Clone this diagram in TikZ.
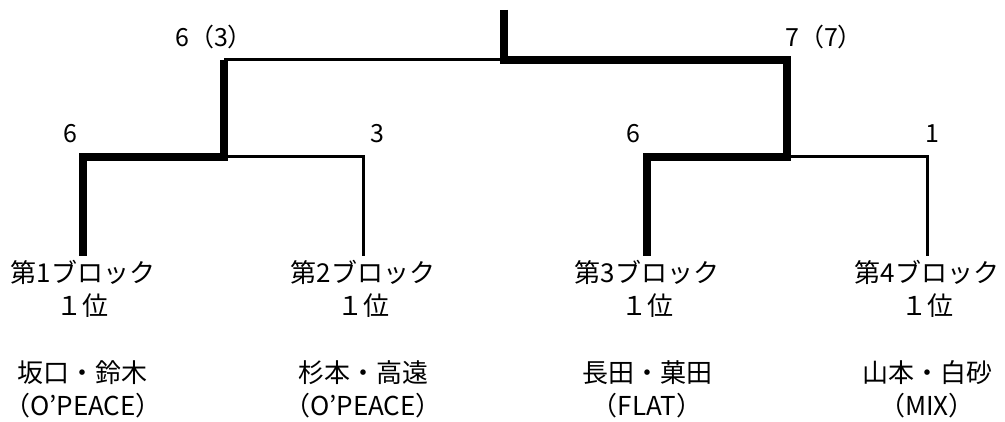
\documentclass[tikz,border=0pt]{standalone}
\usepackage{fontspec}
\setmainfont{Noto Sans CJK JP}
\usetikzlibrary{positioning}
\tikzset{
  win/.style={line width=4pt, line join=miter},
  lose/.style={line width=1.5pt, line join=miter},
  team/.style={align=center, inner sep=2pt, font=\fontsize{13}{16.5}\selectfont},
  score/.style={inner sep=0pt, font=\fontsize{12.5}{15}\selectfont}
}
\begin{document}
\begin{tikzpicture}[x=0.5pt,y=-0.5pt]
\useasboundingbox (0,0) rectangle (1005,422);

% junctions of the bracket
\coordinate (top) at (504,10);
\coordinate (fin) at (504,60);
\coordinate (sl) at (224,60);
\coordinate (sr) at (787,60);
\coordinate (slb) at (224,157);
\coordinate (srb) at (787,157);
\coordinate (q1) at (83,157);
\coordinate (q2) at (363,157);
\coordinate (q3) at (647,157);
\coordinate (q4) at (927,157);

% block winners
\node[team] (b1) at (83,289) {第1ブロック\\１位};
\node[team] (b2) at (363,289) {第2ブロック\\１位};
\node[team] (b3) at (647,289) {第3ブロック\\１位};
\node[team] (b4) at (927,289) {第4ブロック\\１位};

% players
\node[team] (p1) at (83,389) {坂口・鈴木\\（O’PEACE）};
\node[team] (p2) at (363,389) {杉本・高遠\\（O’PEACE）};
\node[team] (p3) at (647,389) {長田・菓田\\（FLAT）};
\node[team] (p4) at (927,389) {山本・白砂\\（MIX）};

% scores
\node[score] (s1) at (70,134) {6};
\node[score] (s2) at (377,134) {3};
\node[score] (s3) at (633,134) {6};
\node[score] (s4) at (932,134) {1};
\node[score] (sl1) at (214,37) {6（3）};
\node[score] (sr1) at (824,37) {7（7）};

% left half
\draw[win] (b1.north) -- (q1) -- (slb) -- (sl);
\draw[lose] (slb) -- (q2) -- (b2.north);
\draw[lose] (sl) -- (fin);

% right half
\draw[win] (top) -- (fin) -- (sr) -- (srb) -- (q3) -- (b3.north);
\draw[lose] (srb) -- (q4) -- (b4.north);

\end{tikzpicture}
\end{document}
